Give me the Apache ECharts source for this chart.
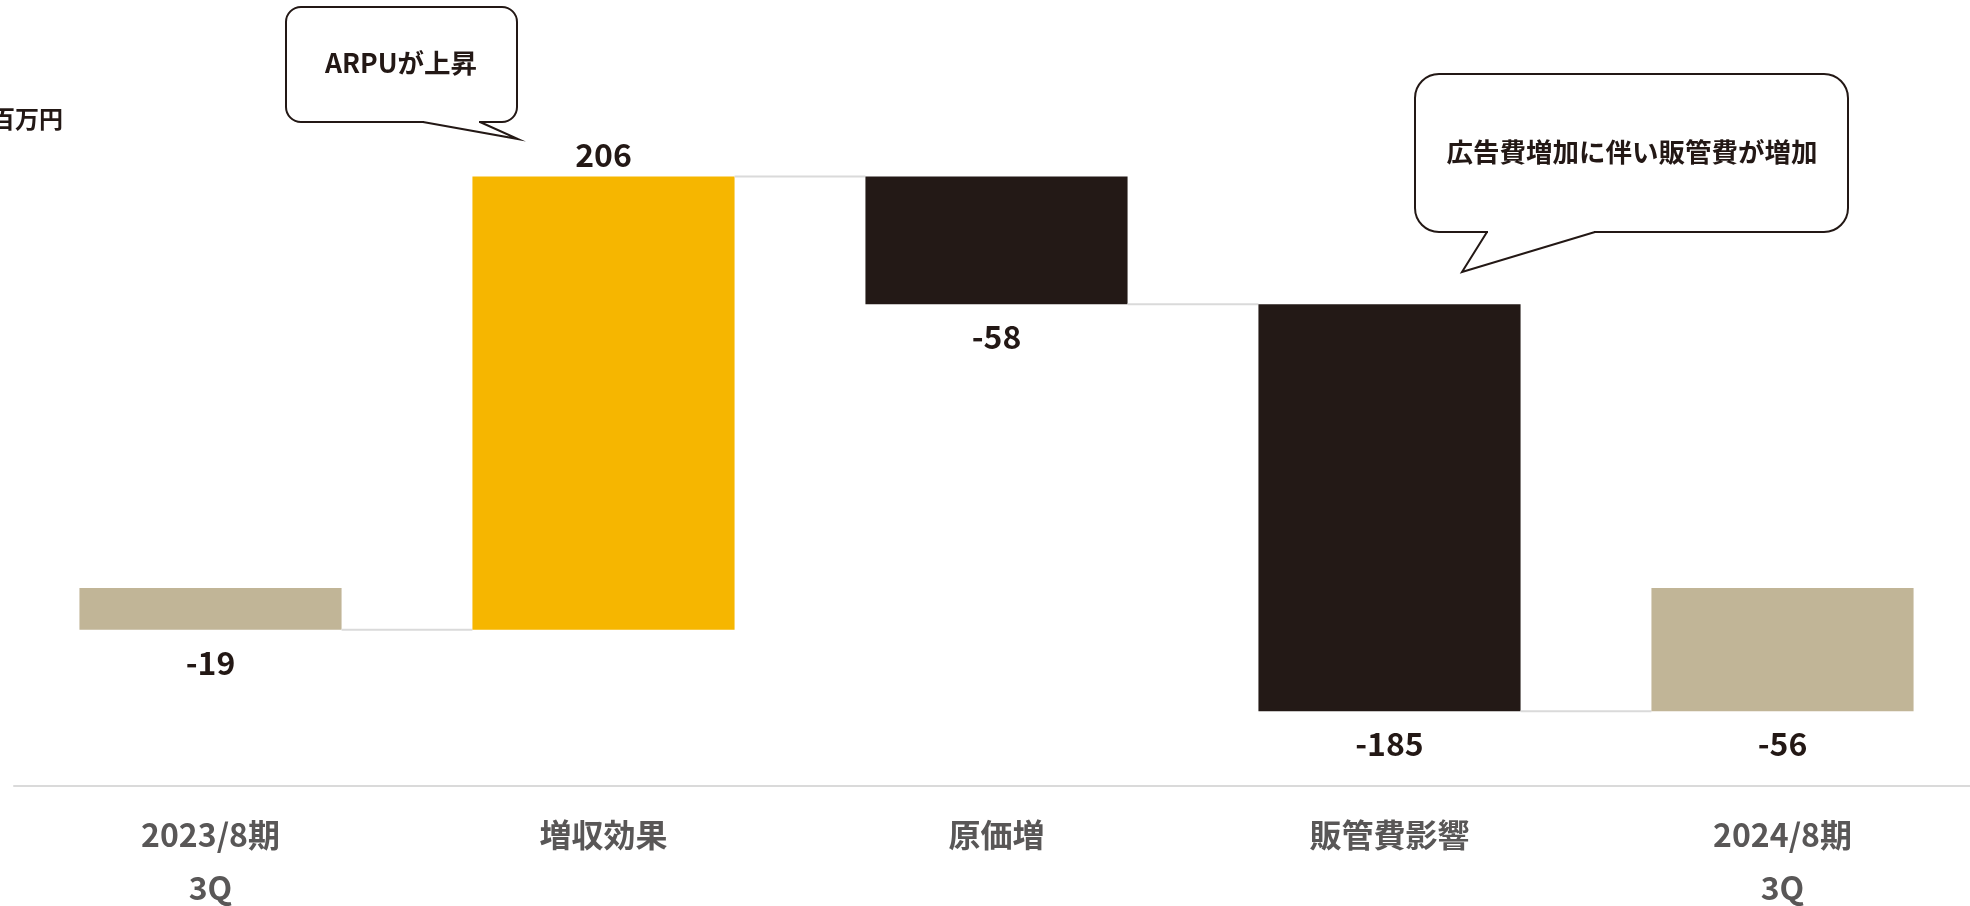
<!DOCTYPE html>
<html>
<head>
<meta charset="utf-8">
<script src="https://cdn.jsdelivr.net/npm/echarts@6/dist/echarts.min.js"></script>
<style>
html,body{margin:0;padding:0;background:#fff;}
#chart{width:1970px;height:906px;}
</style>
</head>
<body>
<div id="chart"></div>
<script>
// ---- data ----
const categories = ['2023/8期\n3Q', '増収効果', '原価増', '販管費影響', '2024/8期\n3Q'];
const values = [-19, 206, -58, -185, -56];
const isTotal = [true, false, false, false, true];
const valueLabels = ['-19', '206', '-58', '-185', '-56'];
const unitLabel = '百万円';
const notes = ['ARPUが上昇', '広告費増加に伴い販管費が増加'];

// ---- build waterfall rows ----
let running = 0;
const rows = values.map((v, i) => {
  let start, end;
  if (isTotal[i]) { start = 0; end = v; } else { start = running; end = running + v; }
  running = end;
  return [i, Math.min(start, end), Math.max(start, end), end, v];
});

const FONT = '"Noto Sans CJK JP", "Noto Sans", sans-serif';
const C_TOTAL = '#C1B597', C_UP = '#F6B600', C_DOWN = '#231916', C_TEXT = '#231815';

const chart = echarts.init(document.getElementById('chart'), null, { renderer: 'canvas' });

function bubble(x0, y0, x1, y1, r, tA, tip, tB, text, tx, ty) {
  return [
    { type: 'rect', shape: { x: x0, y: y0, width: x1 - x0, height: y1 - y0, r: r },
      style: { fill: '#fff', stroke: C_TEXT, lineWidth: 2 } },
    { type: 'line', shape: { x1: tA + 1, y1: y1, x2: tB - 1, y2: y1 },
      style: { stroke: '#fff', lineWidth: 4 } },
    { type: 'polyline', shape: { points: [[tA, y1], tip, [tB, y1]] },
      style: { stroke: C_TEXT, lineWidth: 2, fill: null } },
    { type: 'text', x: tx, y: ty,
      style: { text: text, fill: C_TEXT, fontSize: 26.5, fontWeight: 'bold', fontFamily: FONT, align: 'center', verticalAlign: 'middle' } }
  ];
}

const option = {
  animation: false,
  backgroundColor: '#ffffff',
  grid: { left: 14, width: 1965, top: 38, bottom: 120, outerBoundsMode: 'none', containLabel: false },
  xAxis: {
    type: 'category',
    data: categories,
    axisLine: { onZero: false, lineStyle: { color: '#dadada', width: 2 } },
    axisTick: { show: false },
    axisLabel: {
      color: '#595757', fontSize: 32, fontWeight: 'bold', fontFamily: FONT,
      lineHeight: 53, margin: 22, interval: 0
    }
  },
  yAxis: {
    type: 'value', min: -90, max: 250,
    show: false, splitLine: { show: false }
  },
  series: [{
    type: 'custom',
    data: rows,
    clip: false,
    renderItem: function (params, api) {
      const i = api.value(0), low = api.value(1), high = api.value(2), end = api.value(3), v = api.value(4);
      const band = api.size([1, 0])[0];
      const w = band * 0.667;
      const pLow = api.coord([i, low]);
      const pHigh = api.coord([i, high]);
      const color = isTotal[i] ? C_TOTAL : (v > 0 ? C_UP : C_DOWN);
      const children = [{
        type: 'rect',
        shape: { x: pLow[0] - w / 2, y: pHigh[1], width: w, height: pLow[1] - pHigh[1] },
        style: { fill: color }
      }];
      if (i < rows.length - 1) {
        const pNext = api.coord([i + 1, end]);
        children.push({
          type: 'line',
          shape: { x1: pLow[0] + w / 2, y1: pNext[1], x2: pNext[0] - w / 2, y2: pNext[1] },
          style: { stroke: '#dadada', lineWidth: 2 }
        });
      }
      const up = v > 0;
      children.push({
        type: 'text',
        style: {
          text: valueLabels[i],
          x: pLow[0],
          y: up ? pHigh[1] - 6 : pLow[1] + 17,
          align: 'center',
          verticalAlign: up ? 'bottom' : 'top',
          fill: C_TEXT, fontSize: 32, fontWeight: 'bold', fontFamily: FONT
        }
      });
      return { type: 'group', children: children };
    }
  }],
  graphic: [
    {
      type: 'text', left: -9, top: 107,
      style: { text: unitLabel, fill: C_TEXT, fontSize: 24, fontWeight: 'bold', fontFamily: FONT }
    }
  ].concat(
    bubble(286, 7, 517, 122, 15, 423, [518, 139], 480, notes[0], 401, 63),
    bubble(1415, 74, 1848, 232, 24, 1487, [1462, 272], 1595, notes[1], 1632, 152)
  )
};
chart.setOption(option);
</script>
</body>
</html>
